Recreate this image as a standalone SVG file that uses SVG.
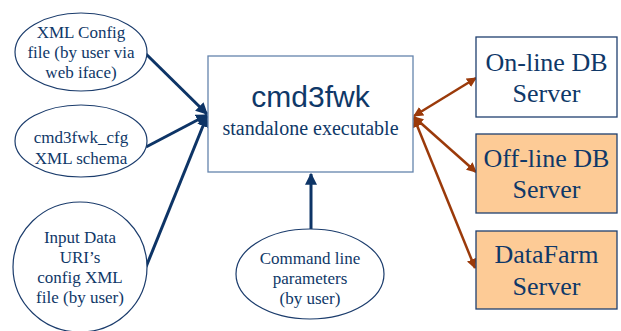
<svg xmlns="http://www.w3.org/2000/svg" width="621" height="331" viewBox="0 0 621 331">
<defs>
<style>
.ell{fill:#fff;stroke:#1b3c6c;stroke-width:1.2}
.t{font-family:"Liberation Serif","Times New Roman","DejaVu Serif",serif;fill:#0f3868;text-anchor:middle}
.s17{font-size:17px}
.s26{font-size:26px}
.box{stroke:#1f3f6f;stroke-width:1.3}
.navy{stroke:#0d3466;stroke-width:3;fill:none}
.brown{stroke:#9b3a0a;stroke-width:2.5;fill:none}
</style>
<marker id="ah" viewBox="0 0 10 10" refX="9" refY="5" markerWidth="4" markerHeight="4" orient="auto" markerUnits="strokeWidth">
<path d="M0,0 L10,5 L0,10 z" fill="#0d3466"/>
</marker>
<marker id="bh" viewBox="0 0 10 10" refX="9" refY="5" markerWidth="4" markerHeight="4" orient="auto-start-reverse" markerUnits="strokeWidth">
<path d="M0,0 L10,5 L0,10 z" fill="#9b3a0a"/>
</marker>
</defs>
<rect width="621" height="331" fill="#fff"/>
<g id="connectors">
<line class="navy" x1="145" y1="53" x2="207" y2="114" marker-end="url(#ah)"/>
<line class="navy" x1="146" y1="147" x2="207" y2="115" marker-end="url(#ah)"/>
<line class="navy" x1="146" y1="267" x2="207" y2="116" marker-end="url(#ah)"/>
<line class="navy" x1="311" y1="229" x2="311" y2="174" marker-end="url(#ah)"/>
<line class="brown" x1="414" y1="116" x2="476" y2="78" marker-start="url(#bh)" marker-end="url(#bh)"/>
<line class="brown" x1="414" y1="117" x2="476" y2="172" marker-start="url(#bh)" marker-end="url(#bh)"/>
<line class="brown" x1="414" y1="118" x2="475" y2="268" marker-start="url(#bh)" marker-end="url(#bh)"/>
</g>
<g id="xmlconfig">
<ellipse class="ell" cx="81" cy="52" rx="66" ry="39"/>
<text class="t s17" x="81" y="38">XML Config</text>
<text class="t s17" x="81" y="58">file (by user via</text>
<text class="t s17" x="81" y="78">web iface)</text>
</g>
<g id="schema">
<ellipse class="ell" cx="81" cy="141" rx="66" ry="36"/>
<text class="t s17" x="81" y="143">cmd3fwk_cfg</text>
<text class="t s17" x="81" y="164">XML schema</text>
</g>
<g id="inputdata">
<ellipse class="ell" cx="80" cy="267" rx="67" ry="65"/>
<text class="t s17" x="80" y="243">Input Data</text>
<text class="t s17" x="80" y="263">URI’s</text>
<text class="t s17" x="80" y="283">config XML</text>
<text class="t s17" x="80" y="303">file (by user)</text>
</g>
<g id="cmdline">
<ellipse class="ell" cx="310" cy="274" rx="74" ry="45"/>
<text class="t s17" x="310" y="264">Command line</text>
<text class="t s17" x="310" y="284">parameters</text>
<text class="t s17" x="310" y="304">(by user)</text>
</g>
<g id="cmd3fwk">
<rect x="208" y="56" width="205" height="116" fill="#fff" stroke="#6584ad" stroke-width="1.3"/>
<text x="310.5" y="107" font-family="'Liberation Sans',Arial,sans-serif" font-size="30" fill="#0f3868" text-anchor="middle">cmd3fwk</text>
<text class="t" x="310.5" y="135" font-size="20">standalone executable</text>
</g>
<g id="online">
<rect class="box" x="476" y="37" width="141" height="80" fill="#fff"/>
<text class="t s26" x="546.5" y="71">On-line DB</text>
<text class="t s26" x="546.5" y="102">Server</text>
</g>
<g id="offline">
<rect class="box" x="476" y="134" width="141" height="79" fill="#fdcb96"/>
<text class="t s26" x="546.5" y="167">Off-line DB</text>
<text class="t s26" x="546.5" y="198">Server</text>
</g>
<g id="datafarm">
<rect class="box" x="476" y="231" width="141" height="78" fill="#fdcb96"/>
<text class="t s26" x="546.5" y="263">DataFarm</text>
<text class="t s26" x="546.5" y="295">Server</text>
</g>
</svg>
